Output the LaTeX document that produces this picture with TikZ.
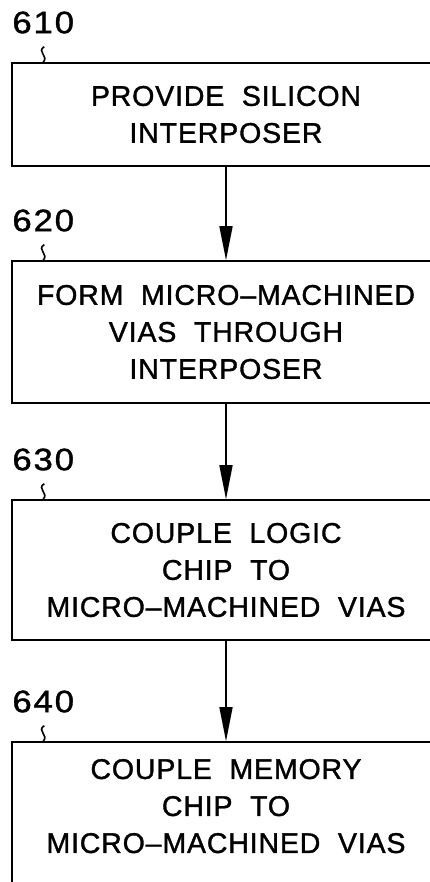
\documentclass[tikz,border=0pt]{standalone}
\usepackage{fontspec}
\usepackage{tikz}
\usetikzlibrary{arrows.meta}
\newfontfamily\patentfont[LetterSpace=3,WordSpace=2,FakeBold=1.2]{Liberation Sans}
\newcommand{\boxfont}{\patentfont\fontsize{28.5}{37}\selectfont}
\newcommand{\numfont}{\patentfont\addfontfeatures{FakeStretch=1.12,LetterSpace=6}\fontsize{31}{31}\selectfont}
\tikzset{
  stepbox/.style={draw, line width=1.6pt, minimum width=428pt,
                  align=center, inner sep=0pt, font=\boxfont},
  plainbox/.style={},
  lowbox/.style={text depth=14pt},
  steplabel/.style={anchor=base west, inner sep=0pt, font=\numfont},
  steplink/.style={draw, line width=1.6pt,
                   -{Triangle[length=34pt, width=13pt]}},
  squig/.style={draw, line width=1.6pt}
}

\begin{document}
\begin{tikzpicture}[x=1pt, y=1pt]
  \useasboundingbox (0,0) rectangle (430,-882);
  \clip (0,0) rectangle (430,-882);
  % number/centre/height/extra/text
  \foreach \n/\y/\h/\o/\t in {%
      610/114.5/103/plainbox/{PROVIDE SILICON\\INTERPOSER},
      620/332/142/plainbox/{FORM MICRO–MACHINED\\VIAS THROUGH\\INTERPOSER},
      630/570/140/plainbox/{COUPLE LOGIC\\CHIP TO\\MICRO–MACHINED VIAS},
      640/813/142/lowbox/{COUPLE MEMORY\\CHIP TO\\MICRO–MACHINED VIAS}}
    { \node[stepbox, minimum height=\h pt, \o] (b\n) at (226,-\y) {\t};
      \node[steplabel] (l\n) at (b\n.north west) [xshift=1pt, yshift=29pt] {\n};
      \draw[squig] ([xshift=1pt, yshift=-13pt]l\n.south) .. controls +(-8,-5) and +(6,6)
        .. (l\n.south |- b\n.north); }
  % the flow
  \foreach \a/\b in {610/620, 620/630, 630/640}
    { \draw[steplink] (b\a) -- (b\b); }
\end{tikzpicture}
\end{document}
